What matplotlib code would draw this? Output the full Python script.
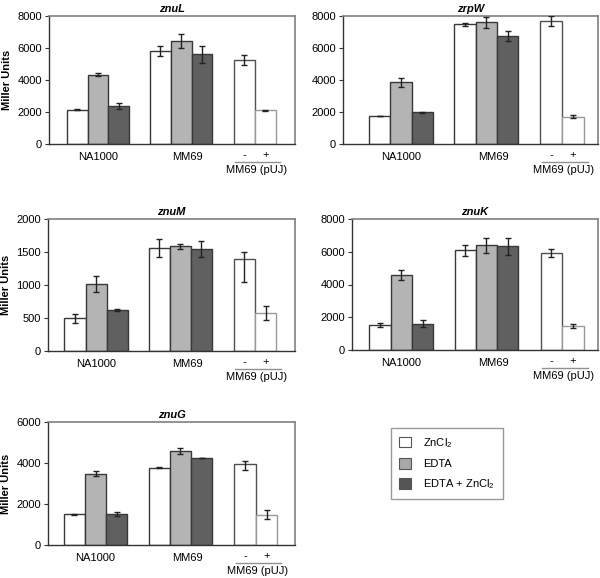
import matplotlib
matplotlib.use('Agg')
import matplotlib.pyplot as plt
import matplotlib.transforms as mtransforms
from matplotlib.patches import Patch

plt.rcParams['font.family'] = ['Liberation Sans', 'DejaVu Sans']
plt.rcParams['mathtext.fontset'] = 'custom'
plt.rcParams['mathtext.rm'] = 'Liberation Sans'

# data (Miller units)
genes = ['znuL', 'zrpW', 'znuM', 'znuK', 'znuG']
ymax = [8000, 8000, 2000, 8000, 6000]
ystep = [2000, 2000, 500, 2000, 2000]
strains = ['NA1000', 'MM69']
conditions = ['ZnCl$_2$', 'EDTA', 'EDTA + ZnCl$_2$']
puj_labels = ['-', '+']

# NA1000 / MM69: [ZnCl2, EDTA, EDTA+ZnCl2]
na1000 = {'znuL': [2150, 4340, 2380], 'zrpW': [1750, 3850, 1980],
          'znuM': [495, 1015, 620], 'znuK': [1530, 4560, 1600],
          'znuG': [1508, 3486, 1508]}
na1000_err = {'znuL': [20, 90, 200], 'zrpW': [20, 260, 50],
              'znuM': [70, 115, 10], 'znuK': [100, 300, 210],
              'znuG': [25, 110, 80]}
mm69 = {'znuL': [5810, 6440, 5620], 'zrpW': [7480, 7600, 6750],
        'znuM': [1555, 1585, 1545], 'znuK': [6080, 6390, 6330],
        'znuG': [3762, 4590, 4265]}
mm69_err = {'znuL': [310, 440, 530], 'zrpW': [100, 360, 300],
            'znuM': [135, 40, 125], 'znuK': [360, 460, 510],
            'znuG': [30, 130, 0]}
# MM69 (pUJ): [-, +], errors as (lower, upper)
puj = {'znuL': [5230, 2100], 'zrpW': [7700, 1710], 'znuM': [1390, 580],
       'znuK': [5920, 1470], 'znuG': [3940, 1476]}
puj_err = {'znuL': [(290, 310), (20, 20)], 'zrpW': [(300, 300), (100, 100)],
           'znuM': [(345, 115), (105, 105)], 'znuK': [(220, 220), (120, 120)],
           'znuG': [(300, 150), (230, 250)]}

colors = ['white', '#b4b4b4', '#606060']
width = 0.25
puj_x = [1.76, 2.015]

# axes boxes in pixels: left, top, right, bottom ; and x-limits
boxes = {'znuL': (49, 16, 295, 144), 'zrpW': (343, 16, 598, 144),
         'znuM': (48, 219, 295, 351), 'znuK': (352, 219, 598, 350),
         'znuG': (48, 422, 295, 545)}
xlims = {'znuL': (-0.59, 2.37), 'zrpW': (-0.68, 2.31), 'znuM': (-0.57, 2.36),
         'znuK': (-0.58, 2.31), 'znuG': (-0.56, 2.35)}
with_ylabel = ['znuL', 'znuM', 'znuG']

W, H = 600, 578
fig = plt.figure(figsize=(W / 100, H / 100), dpi=100)

for g, top, step in zip(genes, ymax, ystep):
    left, t, r, b = boxes[g]
    ax = fig.add_axes([left / W, 1 - b / H, (r - left) / W, (b - t) / H])
    for i, (vals, errs) in enumerate([(na1000[g], na1000_err[g]), (mm69[g], mm69_err[g])]):
        xs = [i - width, i, i + width]
        ax.bar(xs, vals, width, color=colors, edgecolor='#383838', linewidth=1.0, zorder=2)
        ax.errorbar(xs, vals, yerr=errs, fmt='none', ecolor='#222222', elinewidth=1.0,
                    capsize=2.5, capthick=1.0, zorder=3)
    ax.bar(puj_x, puj[g], width, color='white', edgecolor=['#505050', '#999999'],
           linewidth=1.0, zorder=2)
    lo = [e[0] for e in puj_err[g]]
    hi = [e[1] for e in puj_err[g]]
    ax.errorbar(puj_x, puj[g], yerr=[lo, hi], fmt='none', ecolor='#222222',
                elinewidth=1.0, capsize=2.5, capthick=1.0, zorder=3)

    ax.set_xlim(*xlims[g])
    ax.set_ylim(0, top)
    ax.set_yticks(range(0, top + 1, step))
    ax.tick_params(axis='y', labelsize=8, length=3, width=0.8, pad=2, color='#333333')
    ax.set_xticks([])
    for s in ['top', 'right']:
        ax.spines[s].set_color('#808080')
        ax.spines[s].set_linewidth(1.2)
    for s in ['left', 'bottom']:
        ax.spines[s].set_color('#333333')
        ax.spines[s].set_linewidth(1.0)
    ax.set_title(g, fontsize=8, fontweight='bold', style='italic', pad=3)
    if g in with_ylabel:
        ax.set_ylabel('Miller Units', fontsize=8, fontweight='bold', labelpad=4)

    # category labels below the axis
    blend = mtransforms.blended_transform_factory(ax.transData, ax.transAxes)
    for x, s in zip([0, 1.08], strains):
        ax.annotate(s, xy=(x, 0), xycoords=blend, xytext=(0, -13), textcoords='offset pixels',
                    ha='center', va='center', fontsize=8)
    for x, s in zip(puj_x, puj_labels):
        ax.annotate(s, xy=(x, 0), xycoords=blend, xytext=(0, -11), textcoords='offset pixels',
                    ha='center', va='center', fontsize=8)
    line_tr = mtransforms.offset_copy(blend, fig=fig, x=0, y=-18, units='dots')
    ax.plot([1.65, 2.19], [0, 0], transform=line_tr, color='#909090', lw=1.0, clip_on=False)
    ax.annotate('MM69 (pUJ)', xy=(1.905, 0), xycoords=blend, xytext=(0, -26),
                textcoords='offset pixels', ha='center', va='center', fontsize=8)

handles = [Patch(facecolor=c, edgecolor='#555555', linewidth=0.8) for c in ['white', '#a8a8a8', '#555555']]
leg = fig.legend(handles, conditions, loc='upper left', bbox_to_anchor=(391 / W, 1 - 428 / H),
                 fontsize=8, frameon=True, fancybox=False, edgecolor='#808080',
                 handlelength=1.1, handleheight=1.1, handletextpad=1.1,
                 labelspacing=0.75, borderpad=0.7, borderaxespad=0)
leg.get_frame().set_linewidth(1.0)

fig.savefig('out.png', dpi=100)
